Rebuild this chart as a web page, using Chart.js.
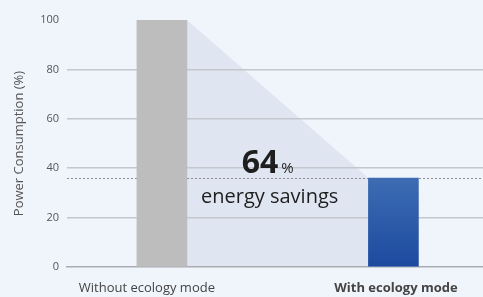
<!DOCTYPE html>
<html><head><meta charset="utf-8">
<script src="https://cdn.jsdelivr.net/npm/chart.js@4/dist/chart.umd.min.js"></script>
<style>
html,body{margin:0;padding:0;background:#f0f4fb;}
#wrap{width:483px;height:297px;position:relative;}
</style></head>
<body><div id="wrap"><canvas id="c" width="483" height="297"></canvas></div>
<script>
const categories = ['Without ecology mode', 'With ecology mode'];
const powerValues = [100, 36];
const yTickValues = [0, 20, 40, 60, 80, 100];
const savingsPercent = 64;
const savingsText = 'energy savings';
const yTitle = 'Power Consumption (%)';

const FONT = "'Open Sans', 'DejaVu Sans', sans-serif";

const shadePlugin = {
  id: 'shade',
  beforeDraw(chart) {
    const meta = chart.getDatasetMeta(0);
    const b0 = meta.data[0], b1 = meta.data[1];
    if (!b0 || !b1) return;
    const y = chart.scales.y;
    const base = y.getPixelForValue(0);
    const x0 = b0.x + b0.width / 2, x1 = b1.x - b1.width / 2;
    const ctx = chart.ctx;
    ctx.save();
    ctx.fillStyle = '#dfe6f1';
    ctx.beginPath();
    ctx.moveTo(x0, b0.y);
    ctx.lineTo(x1, b1.y);
    ctx.lineTo(x1, base);
    ctx.lineTo(x0, base);
    ctx.closePath();
    ctx.fill();
    ctx.restore();
  },
  beforeDatasetsDraw(chart) {
    const y = chart.scales.y;
    const ca = chart.chartArea;
    const py = Math.round(y.getPixelForValue(powerValues[1])) + 0.5;
    const ctx = chart.ctx;
    ctx.save();
    ctx.strokeStyle = '#8a8d93';
    ctx.lineWidth = 1;
    ctx.setLineDash([2, 2]);
    ctx.beginPath();
    ctx.moveTo(ca.left, py);
    ctx.lineTo(ca.right, py);
    ctx.stroke();
    ctx.restore();
  },
  afterDatasetsDraw(chart) {
    const meta = chart.getDatasetMeta(0);
    const b0 = meta.data[0], b1 = meta.data[1];
    const x0 = b0.x + b0.width / 2, x1 = b1.x - b1.width / 2;
    const mid = (x0 + x1) / 2 - 10;
    const py = chart.scales.y.getPixelForValue(powerValues[1]);
    const ctx = chart.ctx;
    ctx.save();
    ctx.fillStyle = '#1e1e1e';
    ctx.textBaseline = 'alphabetic';
    ctx.font = "bold 32px " + FONT;
    const big = String(savingsPercent);
    const wBig = ctx.measureText(big).width;
    ctx.font = "15px " + FONT;
    const wPct = ctx.measureText('%').width;
    const gap = 3;
    const total = wBig + gap + wPct;
    let sx = mid - total / 2;
    ctx.font = "bold 32px " + FONT;
    ctx.textAlign = 'left';
    ctx.fillText(big, sx, py - 5);
    ctx.font = "15px " + FONT;
    ctx.fillText('%', sx + wBig + gap, py - 5);
    ctx.font = "20px " + FONT;
    ctx.textAlign = 'center';
    ctx.fillText(savingsText, mid + 2, py + 25);
    ctx.restore();
  }
};

const labelPositions = [-0.065, 1.011];

const ctx = document.getElementById('c').getContext('2d');
const grad = ctx.createLinearGradient(0, 178, 0, 267);
grad.addColorStop(0, '#3d6cb3');
grad.addColorStop(1, '#1d4a9f');

new Chart(ctx, {
  type: 'bar',
  data: {
    datasets: [{
      data: powerValues.map((v, i) => ({ x: i, y: v })),
      backgroundColor: ['#bdbdbd', grad],
      borderWidth: 0,
      barThickness: 50
    }]
  },
  plugins: [shadePlugin],
  options: {
    responsive: false,
    animation: false,
    events: [],
    layout: { padding: { top: 20, right: 0, bottom: 0, left: 0 } },
    plugins: { legend: { display: false }, tooltip: { enabled: false } },
    scales: {
      x: {
        type: 'linear',
        offset: false,
        bounds: 'data',
        min: -0.41,
        max: 1.387,
        afterBuildTicks(scale) {
          scale.ticks = labelPositions.map(v => ({ value: v }));
        },
        afterFit(scale) { scale.height = 30; },
        grid: { display: false, drawTicks: false, offset: false },
        border: { display: true, color: '#a9acb2', width: 1.5 },
        ticks: {
          padding: 13,
          maxRotation: 0,
          autoSkip: false,
          color: '#444',
          font: (c) => ({ family: FONT, size: 13, weight: c.index === 1 ? 'bold' : 'normal' }),
          callback: (v, i) => categories[i]
        }
      },
      y: {
        min: 0,
        max: 100,
        afterBuildTicks(scale) {
          scale.ticks = yTickValues.map(v => ({ value: v }));
        },
        afterFit(scale) { scale.width = 67; },
        border: { display: false },
        grid: {
          drawTicks: false,
          color: (c) => (c.tick && (c.tick.value === 100 || c.tick.value === 0)) ? 'rgba(0,0,0,0)' : '#c3c7ce',
          lineWidth: 1.5
        },
        ticks: {
          padding: 8,
          color: '#555',
          font: { family: FONT, size: 11 }
        },
        title: {
          display: true,
          text: yTitle,
          color: '#555',
          font: { family: FONT, size: 13 },
          padding: { top: 11, bottom: 4 }
        }
      }
    }
  }
});
</script>
</body></html>
